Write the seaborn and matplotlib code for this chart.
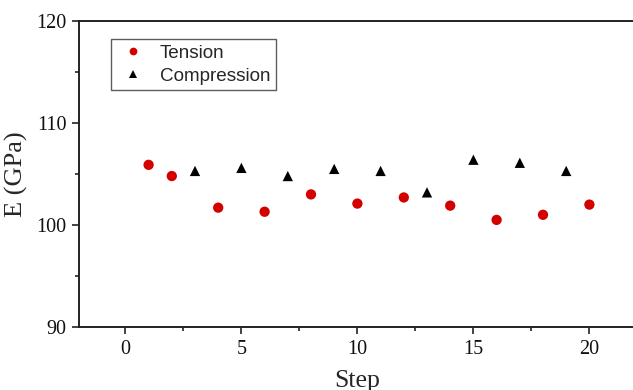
import matplotlib
matplotlib.use("Agg")
import matplotlib.pyplot as plt
import seaborn as sns
import pandas as pd
from matplotlib.ticker import MultipleLocator

tension_steps = [1, 2, 4, 6, 8, 10, 12, 14, 16, 18, 20]
tension_E = [105.9, 104.8, 101.7, 101.3, 103.0, 102.1, 102.7, 101.9, 100.5, 101.0, 102.0]
compression_steps = [3, 5, 7, 9, 11, 13, 15, 17, 19]
compression_E = [105.3, 105.6, 104.8, 105.5, 105.3, 103.2, 106.4, 106.1, 105.3]
series_names = ["Tension", "Compression"]

df = pd.concat([
    pd.DataFrame({"Step": tension_steps, "E": tension_E, "Type": series_names[0]}),
    pd.DataFrame({"Step": compression_steps, "E": compression_E, "Type": series_names[1]}),
])

sns.set_style("ticks")
fig = plt.figure(figsize=(6.33, 3.9), dpi=100)
ax = fig.add_axes([79 / 633, 63 / 390, (635.8 - 79) / 633, 306 / 390])

sns.scatterplot(data=df, x="Step", y="E", hue="Type", style="Type",
                palette={"Tension": "#d40000", "Compression": "#000000"},
                markers={"Tension": "o", "Compression": "^"},
                s=55, edgecolor="none", linewidth=0, ax=ax, legend=True)

ax.set_xlim(-2, 22)
ax.set_ylim(90, 120)
ax.xaxis.set_major_locator(MultipleLocator(5))
ax.xaxis.set_minor_locator(MultipleLocator(2.5))
ax.yaxis.set_major_locator(MultipleLocator(10))
ax.yaxis.set_minor_locator(MultipleLocator(5))
ax.tick_params(which="major", direction="out", length=5, width=1.2, colors="#222222",
               labelsize=14.5, labelcolor="#111111", pad=4)
ax.tick_params(which="minor", direction="out", length=3, width=1.2, colors="#222222")
for lab in ax.get_xticklabels() + ax.get_yticklabels():
    lab.set_fontfamily("Liberation Serif")
for sp in ax.spines.values():
    sp.set_linewidth(1.4)
    sp.set_color("#222222")

ax.set_xlabel("Step", fontfamily="Liberation Serif", fontsize=18.5, labelpad=8)
ax.set_ylabel("E (GPa)", fontfamily="Liberation Serif", fontsize=19, labelpad=6)

leg = ax.legend(loc="upper left", bbox_to_anchor=((111 - 79) / 556.8, (327 - 39) / 306),
                borderaxespad=0.0,
                frameon=True, fancybox=False, prop={"family": "Liberation Sans", "size": 13.6},
                handletextpad=0.6, borderpad=0.3, labelspacing=0.3, handlelength=1.7,
                markerscale=0.75)
leg.get_frame().set_edgecolor("#333333")
leg.get_frame().set_linewidth(1.0)

fig.savefig("out.png", dpi=100)
